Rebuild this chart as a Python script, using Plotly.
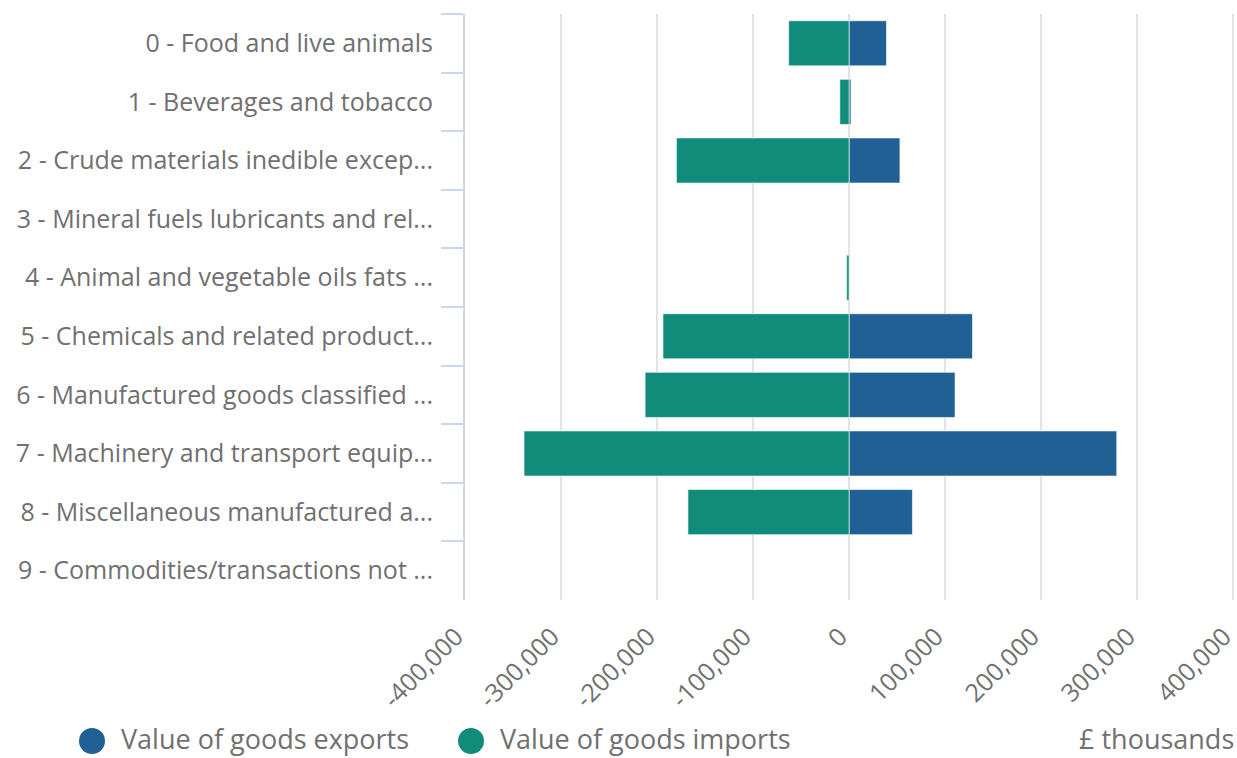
import plotly.graph_objects as go

# SITC sections (labels as displayed on the axis)
categories = [
    "0 - Food and live animals",
    "1 - Beverages and tobacco",
    "2 - Crude materials inedible excep...",
    "3 - Mineral fuels lubricants and rel...",
    "4 - Animal and vegetable oils fats ...",
    "5 - Chemicals and related product...",
    "6 - Manufactured goods classified ...",
    "7 - Machinery and transport equip...",
    "8 - Miscellaneous manufactured a...",
    "9 - Commodities/transactions not ...",
]

# £ thousands; imports shown as negative values, None where nothing is reported
exports = [39000, 2000, 53000, None, None, 128500, 110400, 278800, 66000, None]
imports = [-62900, -9600, -179800, None, -2500, -193800, -212400, -338500, -167800, None]

x_ticks = [-400000, -300000, -200000, -100000, 0, 100000, 200000, 300000, 400000]
x_tick_labels = ["-400,000", "-300,000", "-200,000", "-100,000", "0",
                 "100,000", "200,000", "300,000", "400,000"]

series_names = ["Value of goods exports", "Value of goods imports"]
colors = ["#206095", "#118c7b"]
unit_label = "£ thousands"

FONT = "Open Sans"
GREY = "#707070"

# plot area in pixels
W, H = 1237, 758
L, R, T, B = 465, 1, 14, 158
PW, PH = W - L - R, H - T - B


def px_x(x):
    return (x - L) / PW


def px_y(y):
    return (H - B - y) / PH


fig = go.Figure()
fig.add_trace(go.Bar(
    y=categories, x=exports, orientation="h", name=series_names[0],
    marker=dict(color=colors[0], line=dict(color="rgba(255,255,255,0.6)", width=1)),
    showlegend=False,
))
fig.add_trace(go.Bar(
    y=categories, x=imports, orientation="h", name=series_names[1],
    marker=dict(color=colors[1], line=dict(color="rgba(255,255,255,0.6)", width=1)),
    showlegend=False,
))

fig.update_layout(
    width=W, height=H,
    margin=dict(l=L, r=R, t=T, b=B),
    paper_bgcolor="white", plot_bgcolor="white",
    barmode="relative", bargap=0.23,
    font=dict(family=FONT, color=GREY),
    xaxis=dict(
        range=[-400000, 403000], automargin=False,
        tickmode="array", tickvals=x_ticks, ticktext=x_tick_labels,
        tickangle=-45, tickfont=dict(size=25, color=GREY),
        ticklabelstandoff=16, ticklabelshift=-9, ticklabeloverflow="allow",
        showgrid=True, gridcolor="#e3e3e3", gridwidth=1.5,
        zeroline=False, showline=False, ticks="",
    ),
    yaxis=dict(
        autorange="reversed", type="category", automargin=False,
        tickfont=dict(size=25, color=GREY),
        showline=True, linecolor="#ccd6eb", linewidth=2,
        ticks="outside", tickson="boundaries", ticklen=22,
        tickcolor="#ccd6eb", tickwidth=2,
        ticklabelstandoff=25,
        showgrid=False, zeroline=False,
    ),
)

# Legend drawn below the plot: coloured dots with series names
legend_items = [(92, 120), (471, 499)]
dot_y, text_y = 741, 738
for (cx, tx), name, col in zip(legend_items, series_names, colors):
    fig.add_shape(
        type="circle", xref="paper", yref="paper",
        xsizemode="pixel", ysizemode="pixel",
        xanchor=px_x(cx), yanchor=px_y(dot_y),
        x0=-13, x1=13, y0=-13, y1=13,
        fillcolor=col, line=dict(width=0),
    )
    fig.add_annotation(
        xref="paper", yref="paper", x=px_x(tx), y=px_y(text_y),
        xanchor="left", yanchor="middle", showarrow=False, borderpad=0,
        text=name, font=dict(size=27, color=GREY, family=FONT),
    )

fig.add_annotation(
    xref="paper", yref="paper", x=px_x(1235), y=px_y(text_y),
    xanchor="right", yanchor="middle", showarrow=False, borderpad=0,
    text=unit_label, font=dict(size=27, color=GREY, family=FONT),
)

fig.write_html("out.html")
